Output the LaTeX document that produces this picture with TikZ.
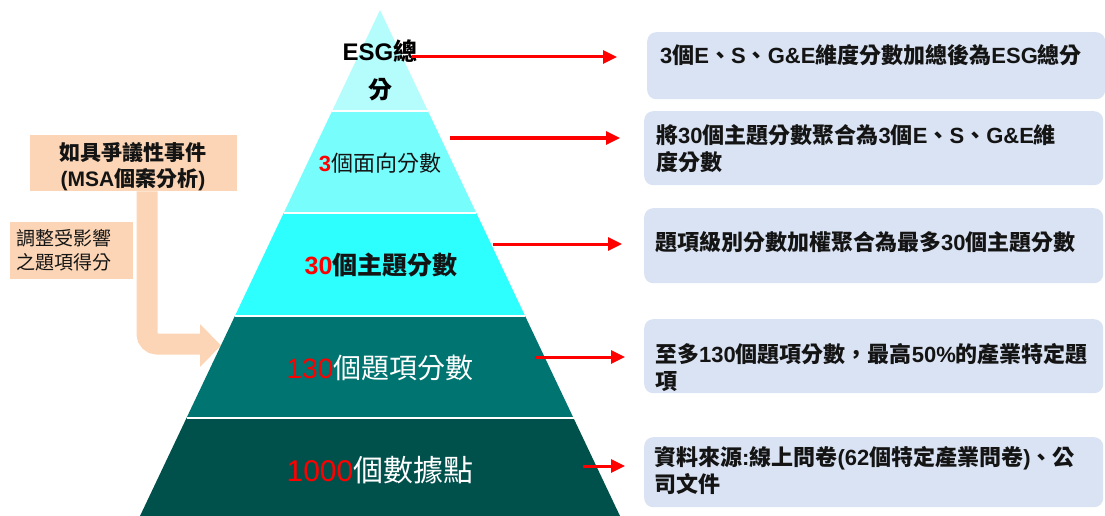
\documentclass[tikz,border=0pt]{standalone}
\usepackage{fontspec}
\setmainfont{Noto Sans CJK TC}
\newfontfamily\lat{Liberation Sans}
\newcommand\La[1]{{\lat #1}}
\usetikzlibrary{arrows.meta}
\definecolor{layA}{HTML}{B5FDFD}
\definecolor{layB}{HTML}{78FDFD}
\definecolor{layC}{HTML}{2DFEFE}
\definecolor{layD}{HTML}{007470}
\definecolor{layE}{HTML}{00504C}
\definecolor{boxblue}{HTML}{DAE3F3}
\definecolor{peach}{HTML}{FBD5B5}
\definecolor{txt}{HTML}{141414}
\begin{document}
\begin{tikzpicture}[x=1pt,y=-1pt,
  sepline/.style={draw=white, line width=1.2pt},
  rbox/.style={fill=boxblue, rounded corners=9pt, draw=none, inner sep=0pt, anchor=north west},
  btxt/.style={anchor=base west, inner sep=0pt, align=left, text=txt, font=\fontsize{22}{27}\selectfont\bfseries},
  ptxt/.style={anchor=base, inner sep=0pt, align=center},
  redarrow/.style={draw=red, line width=3pt, -{Triangle[length=14pt,width=13pt]}},
  pbox/.style={fill=peach, draw=none, inner sep=0pt, anchor=north west}
]
\useasboundingbox (0,0) rectangle (1105,516);

% left peach boxes
\node[pbox, minimum width=207pt, minimum height=56pt] (LB1) at (30,135) {};
\node[anchor=base, align=center, inner sep=0pt, text=txt, font=\fontsize{21}{26}\selectfont\bfseries] (LT1) at (133,186) {如具爭議性事件\\\La{(MSA}個案分析\La{)}};
\node[pbox, minimum width=123pt, minimum height=57pt] (LB2) at (10,222) {};
\node[anchor=base west, align=left, inner sep=0pt, text=txt, font=\fontsize{19}{24}\selectfont] (LT2) at (16,269) {調整受影響\\之題項得分};

% peach bent arrow
\coordinate (pa0) at (147,191);
\coordinate (pa1) at (147,344);
\coordinate (pa2) at (201,344);
\draw[peach, line width=21pt, rounded corners=10pt] (LB1.south -| pa0) -- (pa1) -- (pa2);
\fill[peach] (200,324) -- (221,345.5) -- (200,367) -- cycle;

% pyramid
\coordinate (apex) at (380,10);
\coordinate (a1) at (332.1,111); \coordinate (b1) at (427.9,111);
\coordinate (a2) at (283.7,213); \coordinate (b2) at (476.3,213);
\coordinate (a3) at (234.9,316); \coordinate (b3) at (525.1,316);
\coordinate (a4) at (186.5,418); \coordinate (b4) at (573.5,418);
\coordinate (a5) at (140,516);   \coordinate (b5) at (620,516);
\fill[layA] (apex) -- (b1) -- (a1) -- cycle;
\fill[layB] (a1) -- (b1) -- (b2) -- (a2) -- cycle;
\fill[layC] (a2) -- (b2) -- (b3) -- (a3) -- cycle;
\fill[layD] (a3) -- (b3) -- (b4) -- (a4) -- cycle;
\fill[layE] (a4) -- (b4) -- (b5) -- (a5) -- cycle;
\draw[sepline] (a1) -- (b1);
\draw[sepline] (a2) -- (b2);
\draw[sepline] (a3) -- (b3);
\draw[sepline] (a4) -- (b4);

% pyramid texts
\node[ptxt, text=black, font=\fontsize{24}{38}\selectfont\bfseries] (P1) at (380,99) {\La{ESG}總\\分};
\node[ptxt, text=txt, font=\fontsize{22}{26}\selectfont] (P2) at (380,171) {\textcolor{red}{\bfseries\La{3}}個面向分數};
\node[ptxt, text=txt, font=\fontsize{25}{30}\selectfont\bfseries] (P3) at (381,274) {\textcolor{red}{\La{30}}個主題分數};
\node[ptxt, text=white, font=\fontsize{28}{32}\selectfont] (P4) at (380,378) {\textcolor{red}{\La{130}}個題項分數};
\node[ptxt, text=white, font=\fontsize{30}{34}\selectfont] (P5) at (380,481) {\textcolor{red}{\La{1000}}個數據點};

% right boxes
\node[rbox, minimum width=458pt, minimum height=67pt] (R1) at (647,32) {};
\node[rbox, minimum width=459pt, minimum height=74pt] (R2) at (644,111) {};
\node[rbox, minimum width=459pt, minimum height=75pt] (R3) at (644,208) {};
\node[rbox, minimum width=459pt, minimum height=74pt] (R4) at (644,319) {};
\node[rbox, minimum width=459pt, minimum height=70pt] (R5) at (644,437) {};

\node[btxt] (T1) at (660,63.5) {\La{3}個\La{E}、\La{S}、\La{G\&E}維度分數加總後為\La{ESG}總分};
\node[btxt] (T2) at (656,170.5) {將\La{30}個主題分數聚合為\La{3}個\La{E}、\La{S}、\La{G\&E}維\\度分數};
\node[btxt] (T3) at (655,250.5) {題項級別分數加權聚合為最多\La{30}個主題分數};
\node[btxt] (T4) at (655,389.5) {至多\La{130}個題項分數，最高\La{50\%}的產業特定題\\項};
\node[btxt] (T5) at (654,492.5) {資料來源\La{:}線上問卷\La{(62}個特定產業問卷\La{)}、公\\司文件};

% red arrows
\coordinate (s1) at (412,57);
\coordinate (s2) at (450,138);
\coordinate (s3) at (493,244);
\coordinate (s4) at (535,357);
\coordinate (s5) at (583,466);
\draw[redarrow, shorten >=30pt] (s1) -- (s1 -| R1.west);
\draw[redarrow, shorten >=24pt] (s2) -- (s2 -| R2.west);
\draw[redarrow, shorten >=22pt] (s3) -- (s3 -| R3.west);
\draw[redarrow, shorten >=19pt] (s4) -- (s4 -| R4.west);
\draw[redarrow, shorten >=19pt] (s5) -- (s5 -| R5.west);
\end{tikzpicture}
\end{document}
